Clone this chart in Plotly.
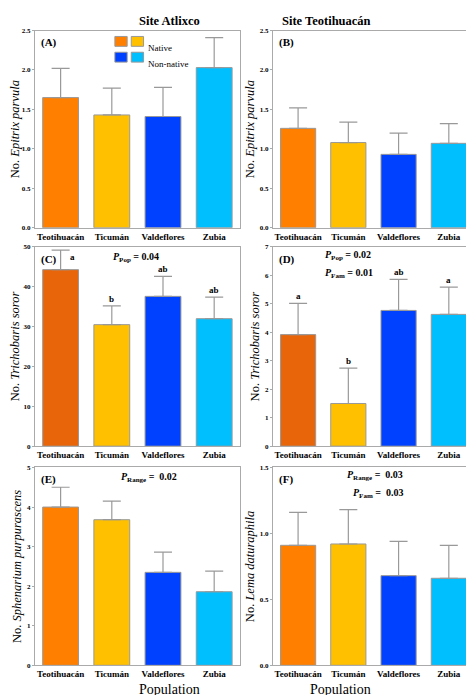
import plotly.graph_objects as go

pops = ["Teotihuacán", "Ticumán", "Valdeflores", "Zubia"]
colors = ["#FF7F00", "#FFC000", "#0040FF", "#00BFFF"]
colors_dark = ["#E8650A", "#FFC000", "#0040FF", "#00BFFF"]

A_mean = [1.65, 1.43, 1.41, 2.03]; A_err = [0.37, 0.34, 0.37, 0.38]
B_mean = [1.26, 1.08, 0.93, 1.07]; B_err = [0.26, 0.26, 0.27, 0.25]
C_mean = [44.3, 30.5, 37.6, 32.0]; C_err = [4.9, 4.7, 5.0, 5.4]
D_mean = [3.92, 1.50, 4.77, 4.63]; D_err = [1.10, 1.24, 1.09, 0.96]
E_mean = [4.00, 3.68, 2.35, 1.86]; E_err = [0.50, 0.47, 0.51, 0.52]
F_mean = [0.91, 0.92, 0.68, 0.66]; F_err = [0.25, 0.26, 0.26, 0.25]
C_letters = ["a", "b", "ab", "ab"]
D_letters = ["a", "b", "ab", "a"]

panels = [
    (A_mean, A_err, colors, 2.5, [0, 0.5, 1, 1.5, 2, 2.5], "(A)", "No. <i>Epitrix parvula</i>", None),
    (B_mean, B_err, colors, 2.5, [0, 0.5, 1, 1.5, 2, 2.5], "(B)", "No. <i>Epitrix parvula</i>", None),
    (C_mean, C_err, colors_dark, 50, [0, 10, 20, 30, 40, 50], "(C)", "No. <i>Trichobaris soror</i>", C_letters),
    (D_mean, D_err, colors_dark, 7, list(range(8)), "(D)", "No. <i>Trichobaris soror</i>", D_letters),
    (E_mean, E_err, colors, 5, list(range(6)), "(E)", "No. <i>Sphenarium purpurascens</i>", None),
    (F_mean, F_err, colors, 1.5, [0, 0.5, 1, 1.5], "(F)", "No. <i>Lema daturaphila</i>", None),
]
xd = [[0.057, 0.489], [0.559, 0.983]]
yd = [[0.686, 0.973], [0.368, 0.658], [0.049, 0.337]]

font = "Liberation Serif"
fig = go.Figure()
for i, (m, e, cols, ymax, ticks, lab, ytitle, letters) in enumerate(panels):
    r, c = divmod(i, 2)
    n = i + 1
    xa = "x" if n == 1 else f"x{n}"
    ya = "y" if n == 1 else f"y{n}"
    fig.add_trace(go.Bar(x=pops, y=m, marker=dict(color=cols, line=dict(color="#999999", width=1)),
                         width=0.7, error_y=dict(type="data", array=e, symmetric=False, arrayminus=[0]*4,
                                                color="#999999", thickness=1.2, width=9),
                         xaxis=xa, yaxis=ya, showlegend=False))
    fig.layout[f"xaxis{'' if n == 1 else n}"] = dict(domain=xd[c], anchor=ya, showline=True, mirror=True,
        linecolor="#aaaaaa", ticks="", tickfont=dict(size=9, family=font, color="black"),
        ticktext=[f"<b>{p}</b>" for p in pops], tickvals=pops)
    fig.layout[f"yaxis{'' if n == 1 else n}"] = dict(domain=yd[r], anchor=xa, range=[0, ymax], tickvals=ticks,
        ticktext=[f"<b>{t:.1f}</b>" if ymax < 3 else f"<b>{t}</b>" for t in ticks],
        showline=True, mirror=True, linecolor="#aaaaaa", showgrid=False, zeroline=False, ticks="outside",
        ticklen=2, tickcolor="#aaaaaa", tickfont=dict(size=7, family=font, color="black"),
        title=dict(text=ytitle, font=dict(size=12.5, family=font), standoff=2))
    fig.add_annotation(text=f"<b>{lab}</b>", xref=f"{xa} domain", yref=f"{ya} domain", x=0.02, y=0.98,
                       xanchor="left", yanchor="top", showarrow=False, font=dict(size=11, family=font))
    if letters:
        for j, (p, l) in enumerate(zip(pops, letters)):
            top = m[j] + e[j]
            if i == 2 and j == 0:
                fig.add_annotation(text=f"<b>{l}</b>", x=p, y=top, xref=xa, yref=ya, xshift=12, yanchor="top",
                                   showarrow=False, font=dict(size=9, family=font))
            else:
                fig.add_annotation(text=f"<b>{l}</b>", x=p, y=top, xref=xa, yref=ya, yanchor="bottom",
                                   showarrow=False, font=dict(size=9, family=font))

def ptxt(txt, xa, ya, x, y):
    fig.add_annotation(text=txt, xref=f"{xa} domain", yref=f"{ya} domain", x=x, y=y, xanchor="left",
                       yanchor="top", showarrow=False, font=dict(size=10, family=font))

ptxt("<b><i>P</i><sub>Pop</sub> = 0.04</b>", "x3", "y3", 0.37, 0.99)
ptxt("<b><i>P</i><sub>Pop</sub> = 0.02</b>", "x4", "y4", 0.25, 1.0)
ptxt("<b><i>P</i><sub>Fam</sub> = 0.01</b>", "x4", "y4", 0.25, 0.91)
ptxt("<b><i>P</i><sub>Range</sub> =  0.02</b>", "x5", "y5", 0.41, 0.99)
ptxt("<b><i>P</i><sub>Range</sub> =  0.03</b>", "x6", "y6", 0.36, 1.0)
ptxt("<b><i>P</i><sub>Fam</sub> =  0.03</b>", "x6", "y6", 0.39, 0.91)

# titles
for txt, c in [("Site Atlixco", 0), ("Site Teotihuacán", 1)]:
    fig.add_annotation(text=f"<b>{txt}</b>", xref="paper", yref="paper", x=sum(xd[c]) / 2, y=1.0,
                       yanchor="top", showarrow=False, font=dict(size=12.5, family=font))
    fig.add_annotation(text="Population", xref="paper", yref="paper", x=sum(xd[c]) / 2, y=0.014,
                       yanchor="middle", showarrow=False, font=dict(size=14, family=font))

# legend inside A
legend_items = [("Native", colors[0], colors[1], 0.97), ("Non-native", colors[2], colors[3], 0.89)]
for name, c1, c2, yy in legend_items:
    for k, cc in enumerate([c1, c2]):
        x0 = 0.39 + k * 0.08
        fig.add_shape(type="rect", xref="x domain", yref="y domain", x0=x0, x1=x0 + 0.06, y0=yy - 0.05, y1=yy,
                      fillcolor=cc, line=dict(color="#999999", width=1))
    fig.add_annotation(text=name, xref="x domain", yref="y domain", x=0.54, y=yy - 0.025, xanchor="left",
                       showarrow=False, font=dict(size=9, family=font))

fig.update_layout(width=474, height=695, margin=dict(l=0, r=0, t=0, b=0), plot_bgcolor="white",
                  paper_bgcolor="white", bargap=0.3, font=dict(family=font, color="black"))
fig.write_html("out.html")
